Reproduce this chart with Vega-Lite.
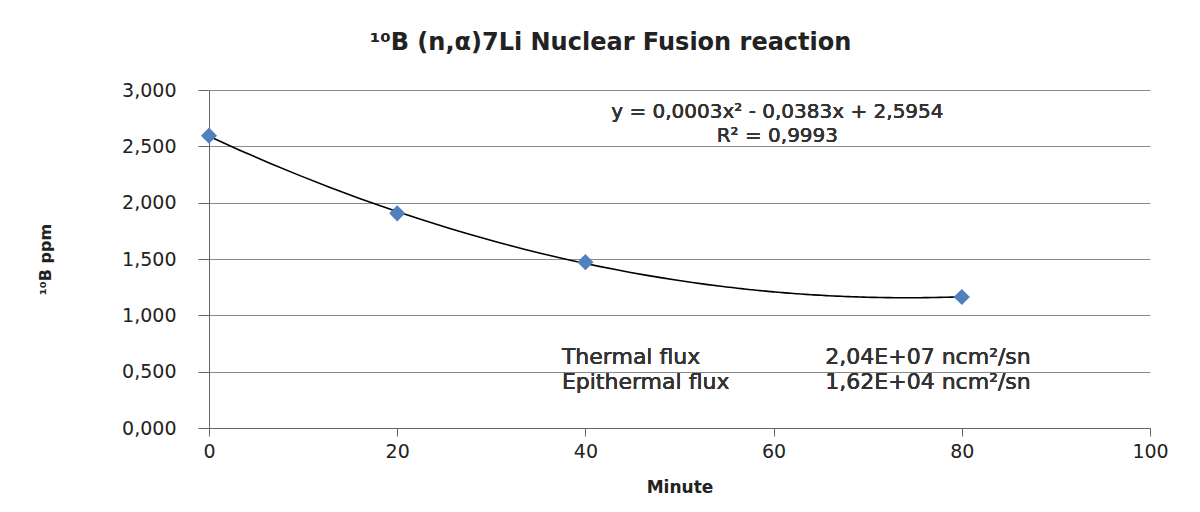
{
  "$schema": "https://vega.github.io/schema/vega-lite/v6.json",
  "width": 941,
  "height": 338,
  "autosize": {"type": "none"},
  "padding": {"left": 209, "top": 90, "right": 50, "bottom": 84},
  "background": "white",
  "config": {
    "view": {"stroke": null},
    "font": "DejaVu Sans"
  },
  "title": {
    "text": "¹⁰B (n,α)7Li Nuclear Fusion reaction",
    "anchor": "middle",
    "frame": "group",
    "dx": -69,
    "offset": 26,
    "fontSize": 24,
    "fontWeight": "bold",
    "font": "DejaVu Sans",
    "color": "#222222"
  },
  "datasets": {
    "boron": [
      {"minute": 0, "ppm": 2.595},
      {"minute": 20, "ppm": 1.905},
      {"minute": 40, "ppm": 1.472},
      {"minute": 80, "ppm": 1.163}
    ]
  },
  "data": {"name": "boron"},
  "layer": [
    {
      "transform": [
        {"regression": "ppm", "on": "minute", "method": "poly", "order": 2, "extent": [0, 80]}
      ],
      "mark": {"type": "line", "color": "#000000", "strokeWidth": 1.6, "interpolate": "monotone"},
      "encoding": {
        "x": {
          "field": "minute",
          "type": "quantitative",
          "scale": {"domain": [0, 100], "nice": false},
          "axis": {
            "title": "Minute",
            "values": [0, 20, 40, 60, 80, 100],
            "grid": false,
            "labelFlush": false,
            "labelBound": false,
            "domainColor": "#666666",
            "tickColor": "#666666",
            "tickSize": 8,
            "labelFontSize": 19,
            "labelColor": "#222222",
            "labelPadding": 6,
            "titleFontSize": 17,
            "titleFontWeight": "bold",
            "titleColor": "#222222",
            "titleY": 59,
            "titleBaseline": "middle"
          }
        },
        "y": {
          "field": "ppm",
          "type": "quantitative",
          "scale": {"domain": [0, 3], "nice": false},
          "axis": {
            "title": "¹⁰B ppm",
            "values": [0, 0.5, 1, 1.5, 2, 2.5, 3],
            "labelExpr": "replace(format(datum.value, '.3f'), '.', ',')",
            "grid": true,
            "gridColor": "#8a8a8a",
            "gridWidth": 1,
            "domainColor": "#666666",
            "tickColor": "#666666",
            "tickSize": 11,
            "labelFontSize": 19,
            "labelColor": "#222222",
            "labelPadding": 22,
            "titleFontSize": 16,
            "titleFontWeight": "bold",
            "titleColor": "#222222",
            "titleX": -164,
            "titleY": 169,
            "titleAlign": "center",
            "titleBaseline": "middle"
          }
        }
      }
    },
    {
      "mark": {"type": "point", "shape": "diamond", "filled": true, "size": 260, "color": "#4F81BD", "opacity": 1},
      "encoding": {
        "x": {"field": "minute", "type": "quantitative"},
        "y": {"field": "ppm", "type": "quantitative"}
      }
    },
    {
      "mark": {"type": "text", "text": "y = 0,0003x² - 0,0383x + 2,5954", "fontSize": 20, "color": "#333333", "align": "center", "baseline": "middle"},
      "encoding": {"x": {"datum": 60.4}, "y": {"datum": 2.805}}
    },
    {
      "mark": {"type": "text", "text": "R² = 0,9993", "fontSize": 20, "color": "#333333", "align": "center", "baseline": "middle"},
      "encoding": {"x": {"datum": 60.4}, "y": {"datum": 2.59}}
    },
    {
      "mark": {"type": "text", "text": "Thermal flux", "fontSize": 22, "color": "#333333", "align": "left", "baseline": "middle"},
      "encoding": {"x": {"datum": 37.5}, "y": {"datum": 0.63}}
    },
    {
      "mark": {"type": "text", "text": "Epithermal flux", "fontSize": 22, "color": "#333333", "align": "left", "baseline": "middle"},
      "encoding": {"x": {"datum": 37.5}, "y": {"datum": 0.41}}
    },
    {
      "mark": {"type": "text", "text": "2,04E+07  ncm²/sn", "fontSize": 22, "color": "#333333", "align": "left", "baseline": "middle"},
      "encoding": {"x": {"datum": 65.5}, "y": {"datum": 0.63}}
    },
    {
      "mark": {"type": "text", "text": "1,62E+04  ncm²/sn", "fontSize": 22, "color": "#333333", "align": "left", "baseline": "middle"},
      "encoding": {"x": {"datum": 65.5}, "y": {"datum": 0.41}}
    }
  ]
}
